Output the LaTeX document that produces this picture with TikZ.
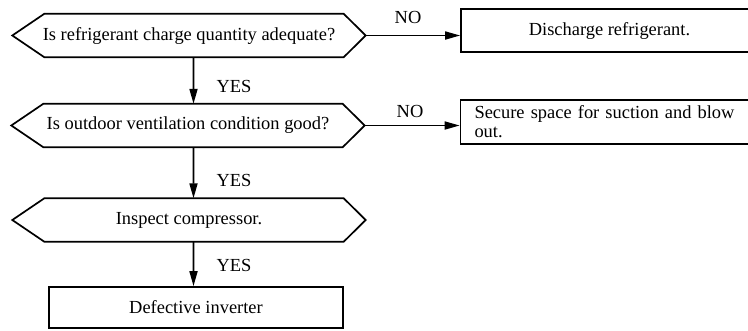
\documentclass[tikz,border=0pt]{standalone}
\usepackage{fontspec}
\setmainfont{Liberation Serif}
\usetikzlibrary{arrows.meta,calc}
\tikzset{
  hexbox/.style={minimum width=353bp, minimum height=43bp, inner sep=0pt, font=\fontsize{18.5}{19}\selectfont},
  plainbox/.style={draw, line width=1.7bp, inner sep=0pt, font=\fontsize{18.5}{19}\selectfont},
  lbl/.style={inner sep=0pt, font=\fontsize{18.5}{19}\selectfont},
  arr/.style={line width=1.7bp, -{Triangle[length=15bp,width=8bp]}},
  hexline/.style={draw, line width=1.7bp, line join=miter}
}
\newcommand\hexdraw[1]{\path[hexline] (#1.west) -- ([xshift=32bp]#1.north west) -- ([xshift=-22bp]#1.north east) -- (#1.east) -- ([xshift=-22bp]#1.south east) -- ([xshift=32bp]#1.south west) -- cycle;}
\begin{document}
\begin{tikzpicture}[x=1bp,y=-1bp]
\useasboundingbox (0,0) rectangle (748,330);
\node[hexbox] (q1) at (189,35.5) {Is refrigerant charge quantity adequate?};
\node[hexbox] (q2) at (188,125.5) {Is outdoor ventilation condition good?};
\node[hexbox] (q3) at (189,220) {Inspect compressor.};
\hexdraw{q1}
\hexdraw{q2}
\hexdraw{q3}
\node[plainbox, minimum width=294bp, minimum height=41bp] (d) at (196,307.5) {Defective inverter};
\node[plainbox, minimum width=297bp, minimum height=43.5bp] (b1) at (609.5,30.5) {Discharge refrigerant.};
\node[plainbox, minimum width=297bp, minimum height=44bp, align=left, text width=270bp, inner xsep=14bp, inner ysep=0pt] (b2) at (609.5,122) {Secure space for suction and blow\\out.};
\draw[arr] ([xshift=4.5bp]q1.south) -- ([xshift=5.5bp]q2.north);
\draw[arr] ([xshift=5.5bp]q2.south) -- ([xshift=4.5bp]q3.north);
\draw[arr] ([xshift=4.5bp]q3.south) -- ([xshift=-2.5bp]d.north);
\draw[arr] (q1.east) -- (q1.east -| b1.west);
\draw[arr] (q2.east) -- (q2.east -| b2.west);
\node[lbl] (y1) at (234,86) {YES};
\node[lbl] (y2) at (234,180) {YES};
\node[lbl] (y3) at (234,265) {YES};
\node[lbl] (n1) at (408,17) {NO};
\node[lbl] (n2) at (410,111) {NO};
\end{tikzpicture}
\end{document}
